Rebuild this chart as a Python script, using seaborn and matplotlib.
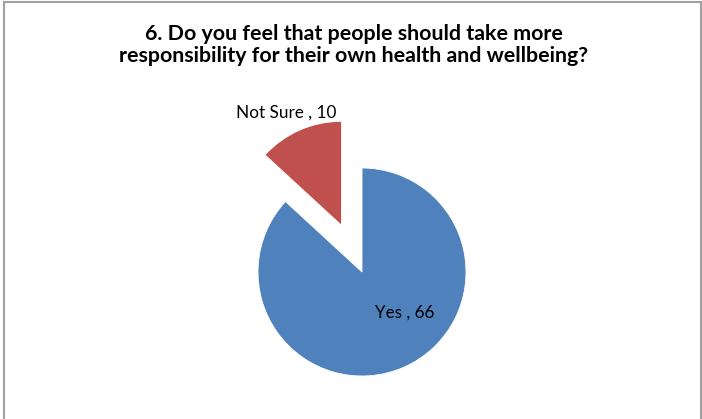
import matplotlib
matplotlib.use("Agg")
import matplotlib.pyplot as plt
import seaborn as sns

# Survey answers
categories = ["Yes", "Not Sure"]
counts = [66, 10]
title_lines = ["6. Do you feel that people should take more",
               "responsibility for their own health and wellbeing?"]

sns.set_theme(style="white")
plt.rcParams["font.family"] = ["Lato", "DejaVu Sans"]
colors = sns.color_palette(["#4F81BD", "#C0504D"])

W, H = 702, 419
fig = plt.figure(figsize=(W / 100, H / 100), dpi=100)
fig.patch.set_facecolor("white")

# Axes spanning the whole canvas; limits put the pie centre and radius in place
cx, cy, r = 362, 272, 104
ax = fig.add_axes([0, 0, 1, 1])
wedges, texts = ax.pie(
    counts,
    colors=colors,
    startangle=90,
    counterclock=False,
    explode=[0, 0.49],
    radius=1.0,
    wedgeprops=dict(linewidth=0.6, edgecolor="white"),
)
ax.set_aspect("auto")
ax.set_xlim(-cx / r, (W - cx) / r)
ax.set_ylim((cy - H) / r, cy / r)
ax.axis("off")

# Data labels "category , value"
label_pos = {"Not Sure": ((286 - cx) / r, (cy - 113) / r),
             "Yes": ((405 - cx) / r, (cy - 313) / r)}
for cat, val in zip(categories, counts):
    x, y = label_pos[cat]
    ax.text(x, y, f"{cat} , {val}", ha="center", va="center",
            fontsize=12.3, color="black")

fig.text(354 / W, 1 - 45 / H, "\n".join(title_lines), ha="center", va="center",
         fontsize=15.4, fontweight="bold", color="black", linespacing=1.15)

# Chart frame
frame = plt.Rectangle((4 / W, -0.01), (701 - 4) / W, 1 - 2 / H + 0.01,
                      transform=fig.transFigure, fill=False,
                      edgecolor="#A0A0A0", linewidth=1.5, clip_on=False)
fig.add_artist(frame)

fig.savefig("out.png", dpi=100, facecolor="white")
